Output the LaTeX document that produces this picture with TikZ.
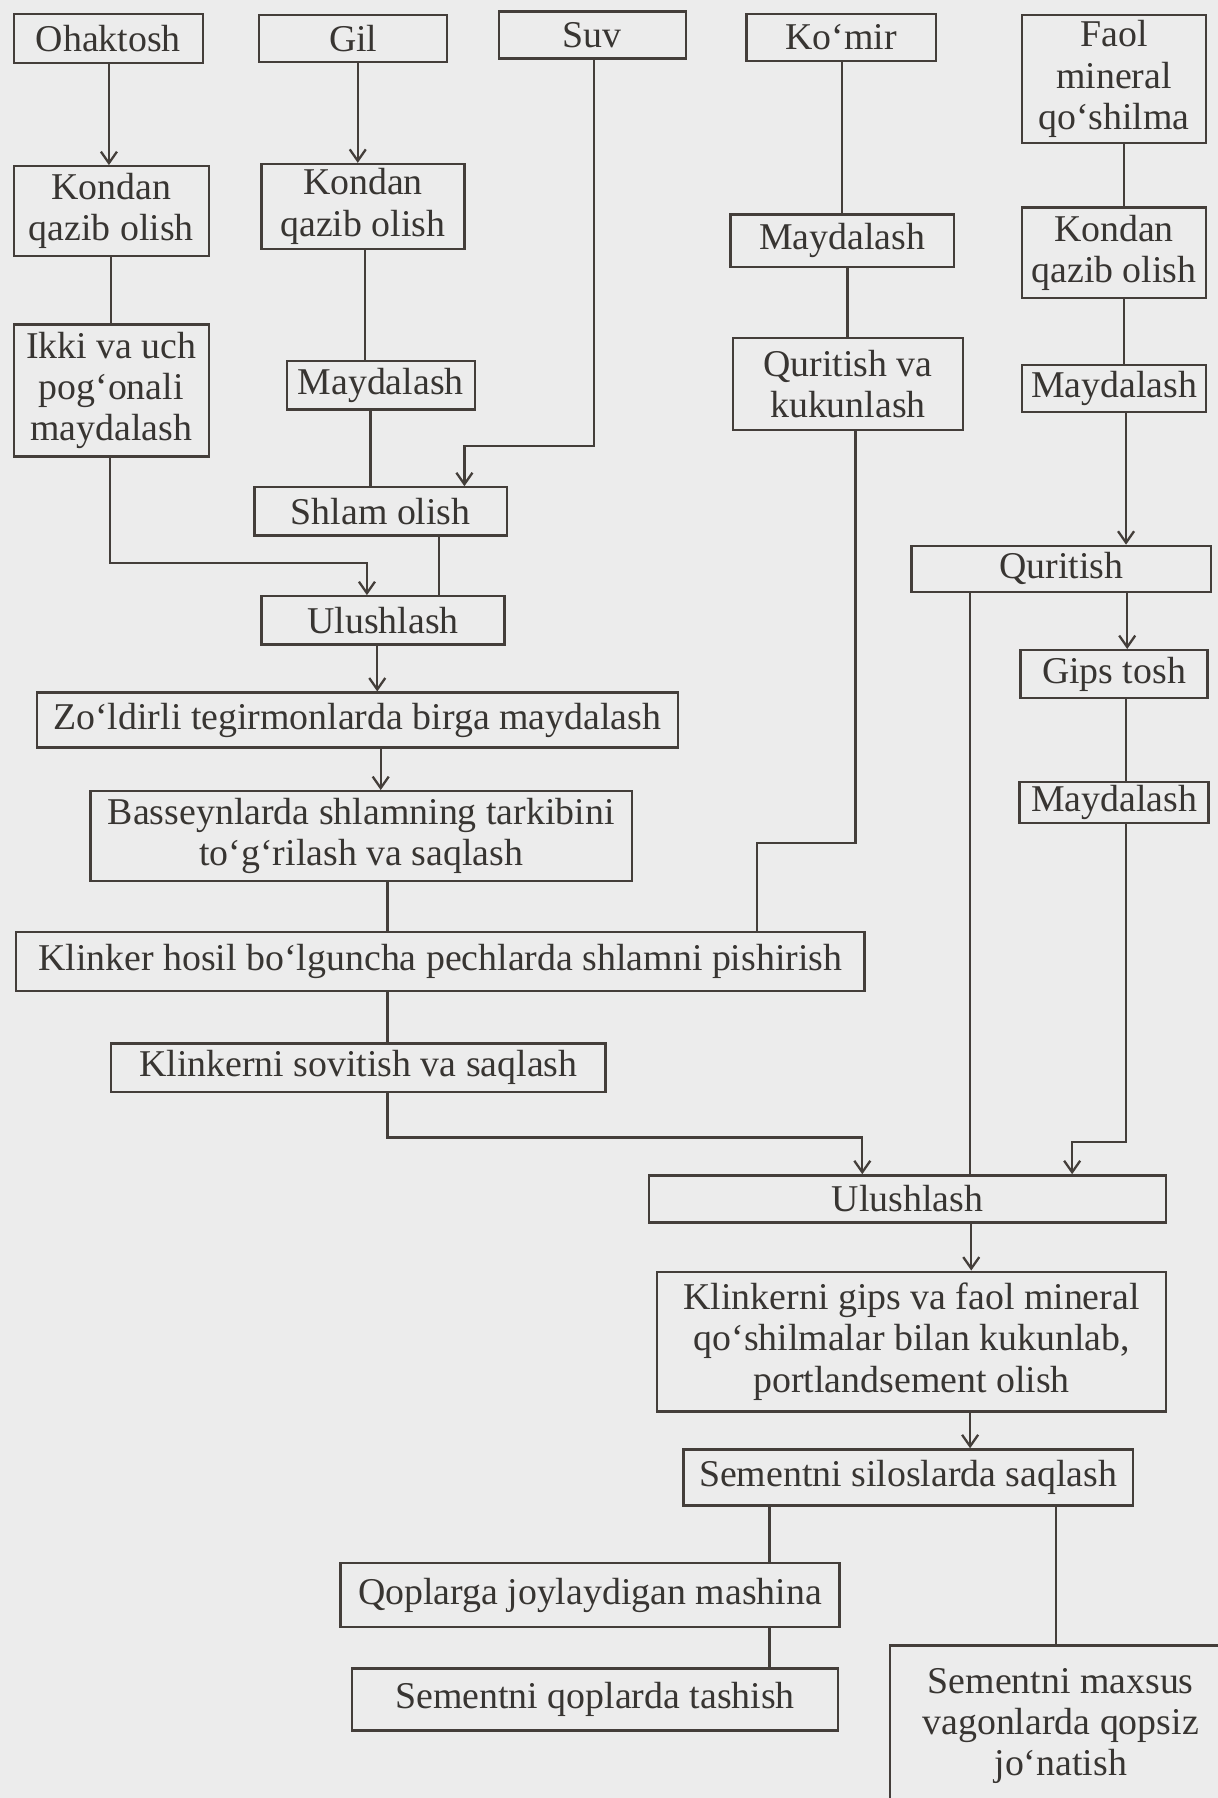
\documentclass[tikz,border=0pt]{standalone}
\usepackage{fontspec}
\setmainfont{Liberation Serif}
\usetikzlibrary{arrows.meta}
\definecolor{paper}{RGB}{236,236,236}
\definecolor{ink}{RGB}{68,62,58}
\definecolor{txt}{RGB}{56,53,50}

\begin{document}
\begin{tikzpicture}[x=1pt, y=-1pt,
        box/.style={draw=ink, line width=2pt, inner sep=0pt, align=center, text=txt, font=\fontsize{33}{36}\selectfont},
        lnk/.style={draw=ink, line width=2pt},
        arr/.style={lnk, -{Straight Barb[length=10pt,width=14pt]}}]
        \useasboundingbox (0,0) rectangle (1062,1568);
        \fill[paper] (0,0) rectangle (1062,1568);
        \clip (0,0) rectangle (1062,1568);

        \node[box, minimum width=165, minimum height=43] (A1) at (94.5,33.5) {Ohaktosh};
        \node[box, minimum width=170, minimum height=78] (A2) at (97,184) {Kondan\\qazib olish};
        \node[box, minimum width=170, minimum height=115] (A3) at (97,340.5) {Ikki va uch\\pog‘onali\\maydalash};

        \node[box, minimum width=164, minimum height=41] (B1) at (308,33.5) {Gil};
        \node[box, minimum width=177, minimum height=74] (B2) at (316.5,180) {Kondan\\qazib olish};
        \node[box, minimum width=164, minimum height=42] (B3) at (332,336) {Maydalash};
        \node[box, minimum width=220, minimum height=42] (B4) at (332,446) {Shlam olish};
        \node[box, minimum width=212, minimum height=42] (B5) at (334,541) {Ulushlash};
        \node[box, minimum width=559, minimum height=48] (B6) at (311.5,628) {Zo‘ldirli tegirmonlarda birga maydalash};
        \node[box, minimum width=472, minimum height=78] (B7) at (315,729) {Basseynlarda shlamning tarkibini\\to‘g‘rilash va saqlash};
        \node[box, minimum width=740, minimum height=51] (B8) at (384,838.5) {Klinker hosil bo‘lguncha pechlarda shlamni pishirish};
        \node[box, minimum width=431, minimum height=42] (B9) at (312.5,931) {Klinkerni sovitish va saqlash};

        \node[box, minimum width=163, minimum height=41] (C1) at (516.5,30.5) {Suv};
        \node[box, minimum width=451, minimum height=41] (C10) at (791.5,1045.5) {Ulushlash};
        \node[box, minimum width=444, minimum height=122] (C11) at (795,1170) {Klinkerni gips va faol mineral\\qo‘shilmalar bilan kukunlab,\\portlandsement olish};
        \node[box, minimum width=392, minimum height=49] (C12) at (792,1288.5) {Sementni siloslarda saqlash};
        \node[box, minimum width=435, minimum height=56] (C13) at (514.5,1391) {Qoplarga joylaydigan mashina};
        \node[box, minimum width=424, minimum height=54] (C14) at (519,1482) {Sementni qoplarda tashish};

        \node[box, minimum width=165, minimum height=41] (D1) at (733.5,32.5) {Ko‘mir};
        \node[box, minimum width=195, minimum height=46] (D2) at (734.5,210) {Maydalash};
        \node[box, minimum width=201, minimum height=80] (D3) at (739.5,335) {Quritish va\\kukunlash};
        \node[box, minimum width=298, minimum height=140] (D14) at (925,1505) {Sementni maxsus\\vagonlarda qopsiz\\jo‘natish};

        \node[box, minimum width=161, minimum height=112] (E1) at (971.5,69) {Faol\\mineral\\qo‘shilma};
        \node[box, minimum width=161, minimum height=79] (E2) at (971.5,220.5) {Kondan\\qazib olish};
        \node[box, minimum width=161, minimum height=41] (E3) at (971.5,338.5) {Maydalash};
        \node[box, minimum width=261, minimum height=40] (E4) at (925.5,496) {Quritish};
        \node[box, minimum width=163, minimum height=42] (E5) at (971.5,588) {Gips tosh};
        \node[box, minimum width=165, minimum height=36] (E6) at (971.5,700) {Maydalash};

        \draw[arr] ([xshift=0.5]A1.south) -- ([xshift=-2]A2.north);
        \draw[lnk] (A2.south) -- (A3.north);
        \draw[arr] ([xshift=-1]A3.south) -- ++(0,92) -| ([xshift=-14]B5.north);

        \draw[arr] ([xshift=4]B1.south) -- ([xshift=-4.5]B2.north);
        \draw[lnk] ([xshift=1.5]B2.south) -- ([xshift=-14]B3.north);
        \draw[lnk] ([xshift=-9]B3.south) -- ([xshift=-9]B4.north);
        \draw[arr] ([xshift=1.5]C1.south) -- ++(0,337) -| ([xshift=73]B4.north);
        \draw[lnk] ([xshift=51]B4.south) -- ([xshift=49]B5.north);
        \draw[arr] ([xshift=-5]B5.south) -- ([xshift=17.5]B6.north);
        \draw[arr] ([xshift=20.5]B6.south) -- ([xshift=17]B7.north);
        \draw[lnk] ([xshift=23]B7.south) -- ([xshift=-46]B8.north);
        \draw[lnk] ([xshift=-46]B8.south) -- ([xshift=25.5]B9.north);
        \draw[arr] ([xshift=25.5]B9.south) -- ++(0,39) -| ([xshift=-39.5]C10.north);

        \draw[lnk] ([xshift=0.5]D1.south) -- ([xshift=-0.5]D2.north);
        \draw[lnk] ([xshift=4.5]D2.south) -- ([xshift=-0.5]D3.north);
        \draw[lnk] ([xshift=6.5]D3.south) -- ++(0,359) -| ([xshift=276]B8.north);

        \draw[lnk] ([xshift=8.5]E1.south) -- ([xshift=8.5]E2.north);
        \draw[lnk] ([xshift=8.5]E2.south) -- ([xshift=8.5]E3.north);
        \draw[arr] ([xshift=10.5]E3.south) -- ([xshift=56.5]E4.north);
        \draw[arr] ([xshift=57.5]E4.south) -- ([xshift=11.5]E5.north);
        \draw[lnk] ([xshift=-79.5]E4.south) -- ([xshift=54.5]C10.north);
        \draw[lnk] ([xshift=10.5]E5.south) -- ([xshift=10.5]E6.north);
        \draw[arr] ([xshift=10.5]E6.south) -- ++(0,277) -| ([xshift=143.5]C10.north);

        \draw[arr] ([xshift=55.5]C10.south) -- ([xshift=52]C11.north);
        \draw[arr] ([xshift=51]C11.south) -- ([xshift=54]C12.north);
        \draw[lnk] ([xshift=-121]C12.south) -- ([xshift=156.5]C13.north);
        \draw[lnk] ([xshift=129]C12.south) -- ([xshift=-4]D14.north);
        \draw[lnk] ([xshift=156.5]C13.south) -- ([xshift=152]C14.north);
    \end{tikzpicture}
\end{document}
